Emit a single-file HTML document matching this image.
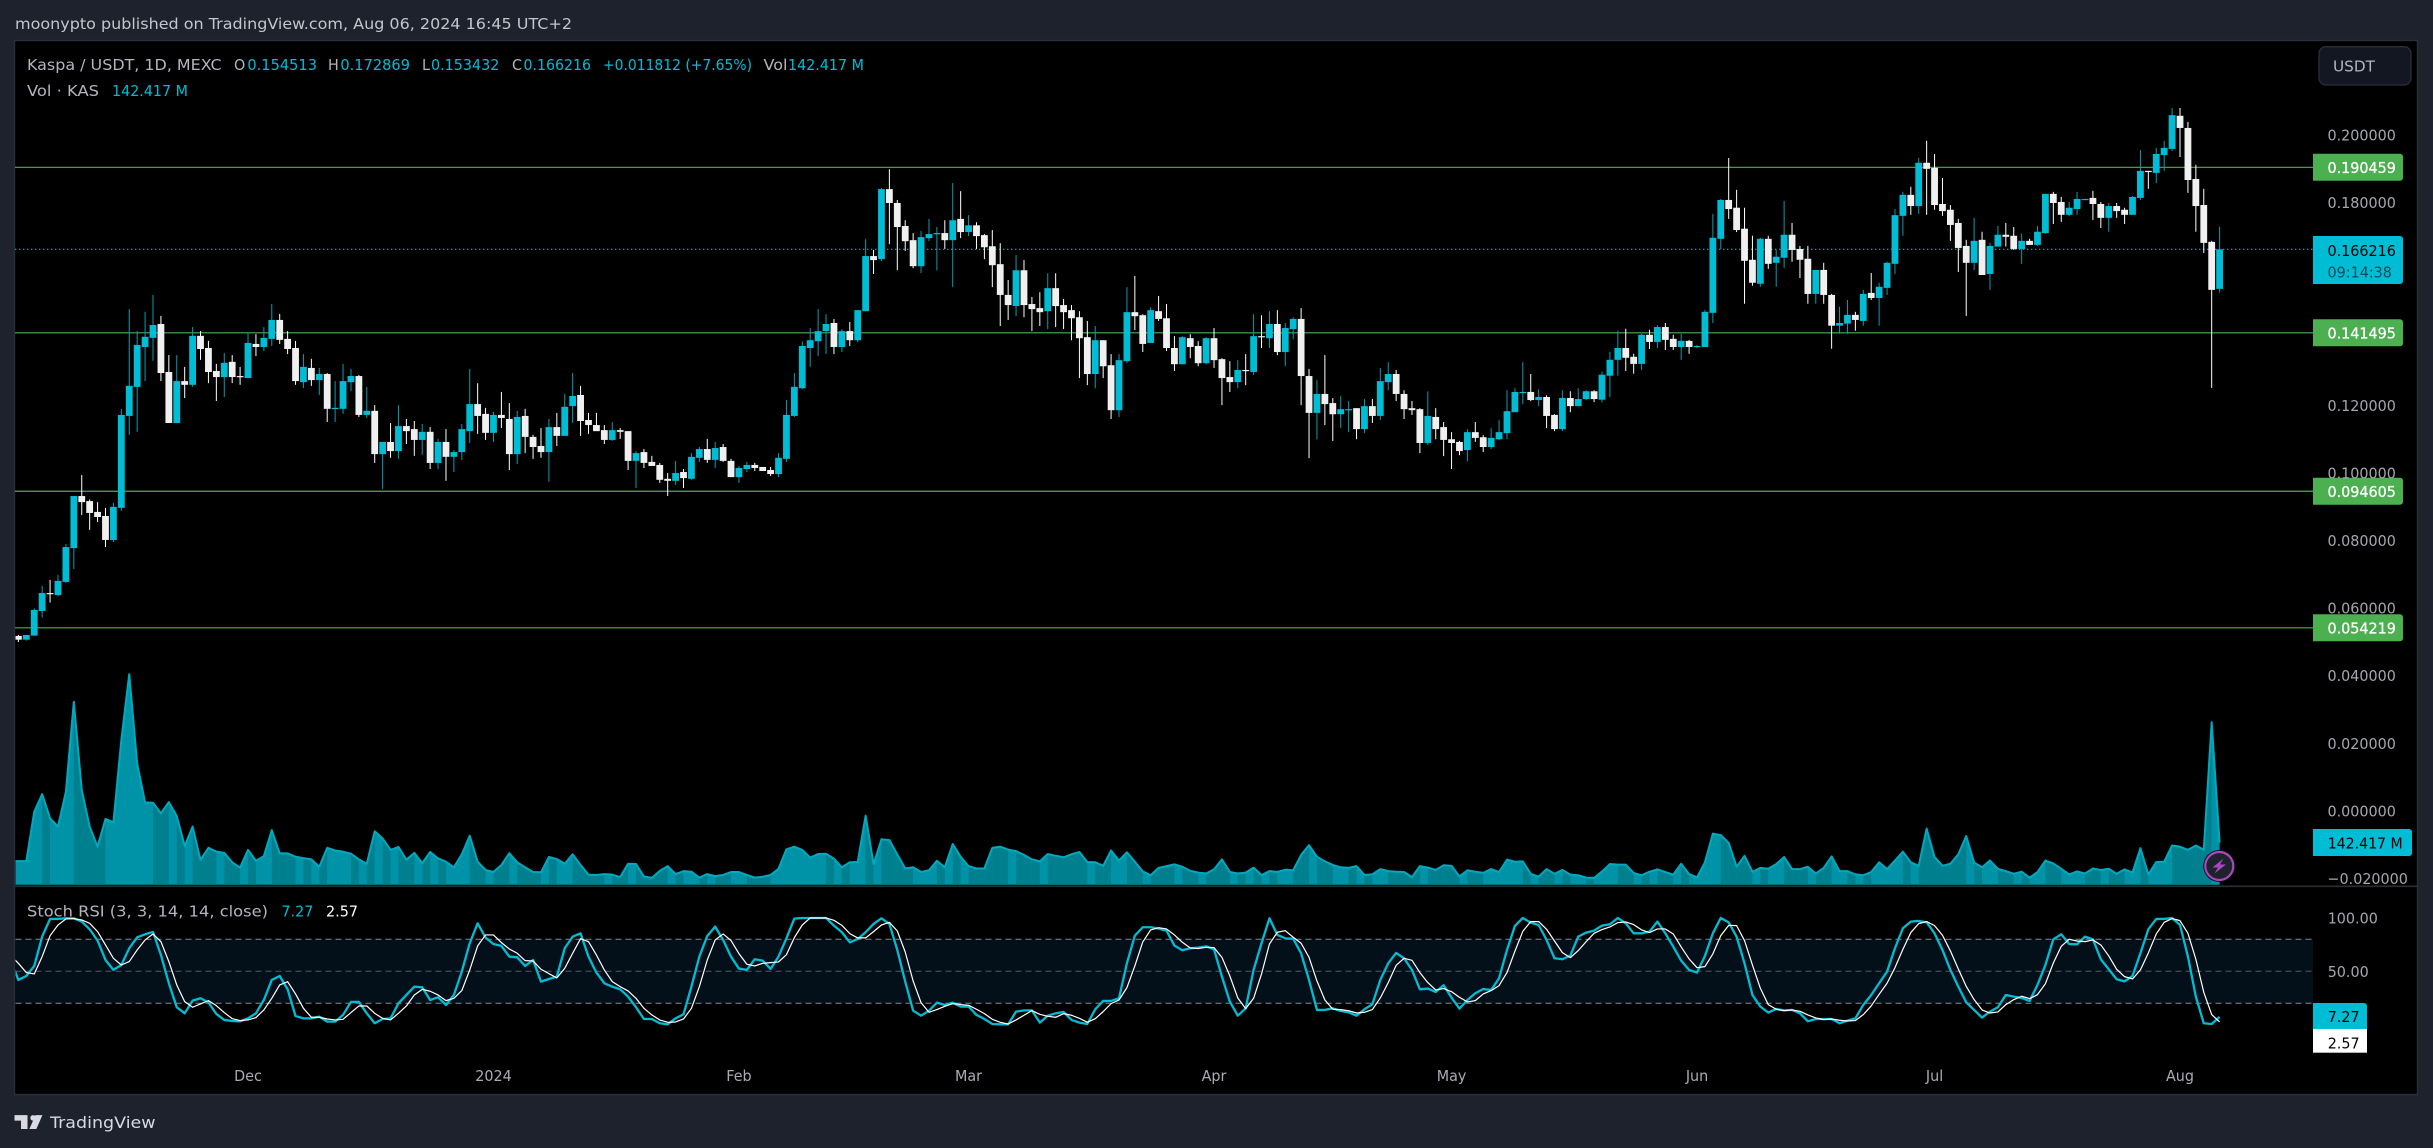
<!DOCTYPE html>
<html lang="en">
<head>
<meta charset="utf-8">
<title>Kaspa / USDT chart</title>
<style>
html,body{margin:0;padding:0;background:#1e222d;}
svg{display:block;}
text{font-family:"DejaVu Sans","Liberation Sans",sans-serif;font-size:15.5px;}
</style>
</head>
<body>
<svg id="chart" xmlns="http://www.w3.org/2000/svg" width="2433" height="1148" viewBox="0 0 2433 1148">
  <defs>
    <clipPath id="plot-clip"><rect x="15.5" y="41" width="2297.5" height="1053"></rect></clipPath>
  </defs>
  <rect x="0" y="0" width="2433" height="1148" fill="#1e222d"></rect>
  <text x="15" y="29" fill="#c4c6cd" textLength="557" lengthAdjust="spacingAndGlyphs">moonypto published on TradingView.com, Aug 06, 2024 16:45 UTC+2</text>
  <rect x="14.5" y="40.5" width="2403" height="1054" fill="#000000" stroke="#2a2e39" stroke-width="1.4"></rect>

  <g id="stoch-back"></g>
  <g id="levels"></g>
  <g id="candles" clip-path="url(#plot-clip)"></g>
  <g id="volume" clip-path="url(#plot-clip)"></g>
  <line x1="15" y1="886.3" x2="2417" y2="886.3" stroke="#2a2e39" stroke-width="1.6"></line>
  <g id="stoch" clip-path="url(#plot-clip)"></g>
  <g id="axes"></g>

  <g>
    <text x="27" y="70" fill="#b2b5be" textLength="194.6" lengthAdjust="spacingAndGlyphs">Kaspa / USDT, 1D, MEXC</text>
    <text x="234" y="70" fill="#b2b5be">O</text>
    <text x="247.4" y="70" fill="#00bcd4" textLength="69.6" lengthAdjust="spacingAndGlyphs">0.154513</text>
    <text x="328" y="70" fill="#b2b5be">H</text>
    <text x="340.4" y="70" fill="#00bcd4" textLength="69.6" lengthAdjust="spacingAndGlyphs">0.172869</text>
    <text x="422" y="70" fill="#b2b5be">L</text>
    <text x="431" y="70" fill="#00bcd4" textLength="68.4" lengthAdjust="spacingAndGlyphs">0.153432</text>
    <text x="512" y="70" fill="#b2b5be">C</text>
    <text x="523.5" y="70" fill="#00bcd4" textLength="67.5" lengthAdjust="spacingAndGlyphs">0.166216</text>
    <text x="603" y="70" fill="#00bcd4" textLength="149" lengthAdjust="spacingAndGlyphs">+0.011812 (+7.65%)</text>
    <text x="763.5" y="70" fill="#b2b5be" textLength="24" lengthAdjust="spacingAndGlyphs">Vol</text>
    <text x="788" y="70" fill="#00bcd4" textLength="76" lengthAdjust="spacingAndGlyphs">142.417 M</text>
    <text x="27" y="96" fill="#b2b5be" textLength="72" lengthAdjust="spacingAndGlyphs">Vol · KAS</text>
    <text x="112" y="96" fill="#00bcd4" textLength="76" lengthAdjust="spacingAndGlyphs">142.417 M</text>
  </g>

  <g>
    <text x="27" y="916.5" fill="#b2b5be" textLength="241" lengthAdjust="spacingAndGlyphs">Stoch RSI (3, 3, 14, 14, close)</text>
    <text x="281.4" y="916.5" fill="#00bcd4" textLength="32" lengthAdjust="spacingAndGlyphs">7.27</text>
    <text x="326" y="916.5" fill="#ffffff" textLength="32" lengthAdjust="spacingAndGlyphs">2.57</text>
  </g>

  <g>
    <rect x="2319" y="46.7" width="92" height="38.3" rx="7" fill="#131722" stroke="#2a2e39" stroke-width="1.3"></rect>
    <text x="2333" y="71.5" fill="#b2b5be" textLength="42" lengthAdjust="spacingAndGlyphs">USDT</text>
  </g>

  <g>
    <path d="M2313 236H2400a3 3 0 0 1 3 3V281a3 3 0 0 1-3 3H2313Z" fill="#00bcd4"></path>
    <text x="2327.5" y="255.8" fill="#000000">0.166216</text>
    <text x="2327.5" y="277.7" fill="#064a57">09:14:38</text>
  </g>

  <g>
    <path d="M2313 829H2409a3 3 0 0 1 3 3V853a3 3 0 0 1-3 3H2313Z" fill="#00bcd4"></path>
    <text x="2327.7" y="848.5" fill="#000000" textLength="75" lengthAdjust="spacingAndGlyphs">142.417 M</text>
  </g>

  <g>
    <path d="M2313 1003H2364a3 3 0 0 1 3 3V1029H2313Z" fill="#00bcd4"></path>
    <text x="2327.7" y="1022" fill="#000000">7.27</text>
    <rect x="2313" y="1029" width="54" height="23.7" fill="#ffffff"></rect>
    <text x="2327.7" y="1048.5" fill="#000000">2.57</text>
  </g>

  <g>
    <circle cx="2219.3" cy="866" r="16" fill="#0b0d13"></circle>
    <circle cx="2219.3" cy="866" r="14" fill="#1e222d" stroke="#ab47bc" stroke-width="2.2"></circle>
    <path d="M2223.5 858.5L2212.5 867.5H2218L2214.5 873.5L2226 864.5H2220Z" fill="#ab47bc"></path>
  </g>

  <g>
    <g transform="translate(14.5,1109.5) scale(0.93)" fill="#d8dae0">
      <path d="M14 6H0v6h7v9h7V6Z"></path>
      <circle cx="20" cy="9" r="3"></circle>
      <path d="M30 6h-7.5L16 21h7.5L30 6Z"></path>
    </g>
    <text x="50" y="1128" fill="#d8dae0" textLength="105.6" lengthAdjust="spacingAndGlyphs" style="font-size:16px">TradingView</text>
  </g>
</svg>

<script>
// Prices are in units of 1/10000 USDT.
const priceUnit = 0.0001;
const opens = [
518,507,519,592,645,639,678,778,932,917,885,873,802,897,1169,1255,1373,1400,1441,1299,
1148,1272,1261,1406,1370,1302,1284,1329,1287,1281,1382,1373,1397,1453,1397,1370,1269,1311,1275,1293,
1190,1190,1269,1287,1172,1184,1056,1092,1065,1139,1130,1098,1122,1030,1092,1048,1062,1124,1204,1175,
1119,1172,1160,1056,1169,1107,1080,1062,1136,1110,1198,1231,1157,1142,1127,1098,1127,1124,1036,1062,
1033,1024,983,977,1003,983,1045,1071,1039,1077,1036,988,1012,1024,1018,1009,997,1042,1169,
1251,1370,1390,1420,1444,1373,1420,1393,1479,1642,1633,1840,1799,1731,1689,1612,1695,1707,1710,1689,
1752,1713,1733,1704,1671,1618,1527,1494,1600,1500,1488,1479,1547,1497,1482,1461,1402,1293,1393,1319,
1186,1331,1476,1467,1385,1479,1458,1370,1322,1399,1376,1325,1399,1337,1284,1269,1305,1299,1405,1399,
1441,1358,1426,1456,1287,1178,1234,1207,1174,1186,1192,1130,1198,1169,1269,1293,1234,1192,1189,1089,
1166,1136,1100,1092,1068,1121,1106,1077,1100,1118,1180,1237,1240,1216,1225,1172,1130,1222,1198,1219,1242,
1217,1288,1335,1370,1344,1323,1409,1388,1432,1397,1373,1391,1373,1373,1474,1693,1808,1785,1723,1631,
1560,1693,1622,1637,1705,1663,1634,1530,1601,1527,1436,1442,1468,1450,1533,1518,1548,1619,1761,1823,
1790,1918,1903,1796,1779,1740,1672,1622,1690,1589,1670,1705,1702,1663,1687,1675,1710,1826,1802,1764,
1781,1808,1814,1796,1755,1790,1779,1764,1814,1894,1888,1941,1959,2057,2021,1870,1793,1684,1545];
const highs = [
521,521,600,666,684,699,790,932,994,922,914,897,912,1190,1485,1420,1477,1527,1465,1349,
1349,1314,1432,1420,1391,1323,1355,1349,1314,1415,1411,1432,1500,1471,1420,1391,1352,1338,1311,1296,
1272,1323,1308,1290,1255,1201,1092,1148,1201,1160,1154,1145,1136,1101,1130,1068,1145,1308,1266,1193,
1181,1240,1207,1184,1190,1113,1133,1160,1178,1234,1296,1258,1178,1178,1142,1151,1133,1124,1065,1071,
1051,1030,1000,1036,1012,1059,1077,1101,1092,1086,1042,1021,1033,1030,1018,1018,1059,1216,1296,
1390,1429,1485,1470,1456,1426,1447,1482,1692,1660,1843,1899,1808,1748,1710,1716,1752,1728,1748,1858,
1834,1763,1742,1707,1719,1680,1571,1645,1630,1521,1535,1591,1591,1515,1497,1479,1450,1435,1393,1352,
1352,1550,1583,1470,1491,1524,1500,1405,1405,1411,1390,1402,1429,1340,1331,1334,1352,1470,1467,1479,
1482,1444,1461,1488,1308,1275,1349,1222,1228,1213,1192,1219,1219,1311,1328,1305,1245,1213,1192,1242,
1192,1151,1121,1095,1130,1151,1112,1133,1157,1245,1251,1328,1293,1248,1230,1174,1245,1242,1251,1245,1245,
1300,1359,1421,1427,1353,1412,1424,1438,1444,1409,1412,1394,1379,1483,1767,1811,1932,1838,1785,1702,
1696,1702,1660,1805,1740,1672,1672,1601,1622,1530,1492,1512,1477,1542,1592,1563,1625,1781,1832,1847,
1932,1983,1944,1873,1793,1752,1690,1755,1714,1681,1731,1740,1728,1708,1693,1731,1826,1832,1817,1802,
1832,1811,1835,1802,1799,1799,1785,1820,1956,1894,1962,1983,2080,2080,2039,1912,1841,1687,1729];
const lows = [
500,504,519,572,617,636,675,716,876,832,855,781,796,888,1113,1122,1272,1332,1272,1148,
1148,1222,1255,1335,1266,1213,1225,1266,1261,1281,1346,1361,1376,1382,1352,1261,1252,1258,1231,1151,
1151,1175,1243,1166,1163,1030,953,1045,1042,1086,1051,1054,1012,1012,977,1003,1039,1089,1116,1098,
1092,1133,1009,1027,1059,1042,1045,974,1080,1110,1148,1110,1116,1124,1086,1095,1101,1009,956,1015,
1021,971,932,965,956,980,1033,1030,1015,1033,988,971,1003,1006,1006,991,988,1033,1166,
1248,1314,1346,1352,1352,1358,1376,1387,1479,1589,1627,1677,1600,1657,1606,1592,1686,1600,1663,1550,
1695,1701,1663,1633,1550,1435,1453,1464,1461,1420,1435,1426,1432,1426,1393,1281,1260,1251,1281,1160,
1166,1325,1423,1358,1385,1450,1361,1302,1322,1340,1316,1322,1311,1201,1240,1251,1260,1290,1370,1370,
1349,1316,1396,1201,1044,1100,1142,1095,1133,1121,1100,1118,1148,1157,1245,1213,1160,1172,1059,1083,
1100,1050,1012,1053,1035,1092,1062,1071,1098,1100,1180,1204,1213,1198,1133,1124,1124,1180,1198,1216,1210,
1209,1225,1288,1302,1294,1305,1367,1370,1364,1364,1335,1353,1370,1373,1444,1663,1752,1713,1501,1554,
1551,1604,1551,1607,1625,1577,1501,1501,1501,1368,1412,1412,1421,1436,1512,1436,1527,1589,1702,1764,
1767,1764,1779,1761,1687,1595,1465,1601,1586,1542,1670,1670,1660,1619,1675,1672,1708,1737,1743,1761,
1764,1808,1749,1725,1714,1755,1737,1764,1808,1841,1858,1894,1953,1935,1829,1714,1651,1252,1534];
const closes = [
507,521,595,645,642,681,781,932,914,882,870,802,900,1172,1258,1379,1403,1438,1296,1148,
1272,1261,1406,1367,1299,1284,1326,1284,1284,1385,1373,1400,1453,1394,1367,1272,1314,1275,1293,1190,
1193,1272,1287,1172,1184,1056,1092,1065,1139,1124,1098,1122,1030,1092,1048,1062,1130,1204,1169,1119,
1172,1163,1056,1166,1107,1077,1062,1136,1110,1196,1228,1154,1142,1124,1098,1127,1122,1036,1059,1030,
1021,980,977,1000,985,1048,1071,1039,1074,1036,988,1015,1024,1015,1006,997,1045,1172,1255,
1376,1393,1420,1441,1373,1420,1393,1482,1642,1630,1840,1799,1728,1686,1612,1698,1707,1710,1689,1748,
1713,1733,1701,1668,1615,1527,1497,1600,1497,1485,1476,1547,1494,1476,1458,1399,1293,1393,1316,1186,
1334,1476,1464,1382,1482,1456,1370,1322,1402,1373,1325,1399,1334,1281,1269,1305,1302,1405,1402,1441,
1358,1429,1456,1287,1178,1234,1204,1174,1189,1189,1130,1198,1169,1272,1293,1234,1189,1186,1089,1169,
1130,1098,1089,1065,1121,1104,1077,1104,1121,1183,1240,1240,1216,1225,1169,1130,1222,1198,1219,1242,1219,
1291,1335,1370,1341,1323,1409,1388,1432,1394,1373,1391,1373,1376,1477,1696,1808,1781,1719,1628,1563,
1693,1619,1640,1705,1660,1631,1530,1601,1527,1436,1444,1468,1453,1530,1518,1551,1622,1763,1823,1790,
1918,1900,1793,1775,1734,1666,1622,1687,1586,1672,1705,1699,1663,1687,1675,1714,1826,1799,1764,1785,
1811,1811,1796,1755,1790,1775,1764,1817,1894,1891,1944,1962,2059,2021,1867,1790,1681,1542,1662];
// Volume in millions of KAS.
const volumes = [
80,80,247,307,225,197,315,620,321,197,129,223,211,490,714,411,279,278,242,280,
233,131,197,84,125,112,108,76,58,118,81,97,185,106,106,95,90,86,61,125,
116,112,105,86,71,181,157,118,128,85,108,73,111,89,78,59,103,166,78,50,
43,67,107,76,59,43,42,94,87,71,103,67,34,33,36,34,26,71,70,28,
23,47,63,36,46,44,24,36,29,33,43,43,33,24,27,33,54,120,129,118,
92,104,105,88,59,76,77,234,70,154,151,103,55,59,43,49,81,59,138,95,
63,55,55,125,129,119,114,101,86,79,104,98,93,103,111,77,76,64,116,82,
110,78,45,32,57,63,69,61,47,41,38,52,86,43,38,41,58,33,46,43,
51,49,101,134,95,79,67,59,57,63,33,35,53,46,44,43,26,63,58,50,
66,64,28,49,44,40,53,43,85,78,79,37,27,53,37,50,34,32,24,23,
45,70,68,68,40,32,44,52,43,34,71,36,25,76,173,168,142,61,98,44,
57,54,70,94,53,53,61,38,57,96,46,46,35,32,43,76,53,82,112,76,
64,190,94,64,71,103,165,75,59,82,54,46,37,44,24,43,82,72,54,35,
45,38,55,50,54,37,52,41,124,35,77,78,133,129,118,133,118,551,142.4];
const stochK = [
41.9,45.6,55,82.5,99.1,99.1,99.7,99.7,96.6,89.4,78.8,60.6,51.3,55.9,71.6,81.9,84.7,86.9,65.3,38.8,
16.3,10.6,22.5,24.7,20.9,10,4.4,3.4,3.1,5.9,10.6,23.1,41.9,45.6,33.1,8.1,5.9,5.9,7.5,2.8,
2.8,9.1,21.3,21.3,10.6,1.3,5.3,5.9,20,27.8,35.6,35,23.1,25.6,18.4,27.8,49.7,76.3,95,81.6,
75.6,73.8,63.8,63.1,55,60.6,40.3,42.8,45,71.6,
82.5,85.6,63.8,48.8,38.8,35.6,33.1,26.3,16.3,5.3,5.3,1.3,0.3,5.9,9.7,35.6,63.8,83.1,91.9,79.4,
63.8,52.5,51.3,61.3,60,52.2,63.8,80.9,99.4,100,100,100,100,92.8,86.6,77.2,80.3,86.6,94.4,99.7,
94.4,70,40.3,13.1,8.4,13.1,20.6,18.4,20.6,16.9,16.9,9.1,5.3,0.6,0.3,0.3,12.2,13.4,13.4,1.9,
8.4,10.6,11.9,4.4,1.9,0.6,14.4,22.2,22.2,24.7,57.5,
83.4,91.3,91.3,90,88.1,74.1,69.7,71.6,72.2,73.4,70.6,45,21.6,8.4,15.3,51.3,76.3,99.7,84.1,80.9,
80.6,66.9,41.9,13.8,13.8,15.3,12.8,11.6,8.4,14.4,19.1,41.9,57.5,67.2,62.2,51.3,33.1,33.8,30.6,36.9,
25.3,15,23.1,29.4,33.4,32.5,43.4,70,92.5,100,95.6,93.4,79.4,62.2,61.3,64.7,82.5,86.3,88.1,92.8,
94.1,100,95,85.6,85.6,87.2,96.6,85.6,73.1,60,51.3,
48.8,64.4,85.6,100,95.9,82.5,57.5,27.8,16.9,11.3,14.7,13.4,13.8,10.6,3.1,5.3,5.3,5.3,1.3,3.8,
5.9,18.4,27.8,38.8,49.7,71.6,90.3,96.6,97.2,95.9,85.6,70,51.3,35.6,20.9,13.8,6.6,12.2,16.3,27.8,
26.3,25,22.2,37.2,55.9,80,84.7,75.6,75.3,82.5,80,61.3,51.9,42.5,40.6,45.6,66.9,89.4,99.1,99.1,
100,93.4,63.8,26.3,1.3,0.6,7.27];
const stochD = [
57.5,48.8,47.5,63.8,83.4,93.4,99.1,99.4,98.1,95,87.2,74.7,62.2,55.9,59.1,70,79.4,85,77.8,59.1,
37.2,21.6,16.3,19.4,22.5,17.8,11.3,5.6,3.8,4.4,6.6,13.8,24.7,37.2,40.3,28.8,15.3,6.9,6.9,5.3,
4.4,5,11.3,17.5,17.5,10.6,5.9,4.4,10.6,17.5,27.8,33.1,31.3,27.8,22.5,24.7,31.9,51.3,73.8,84.1,
84.1,76.9,70.9,66.9,60,59.7,51.9,47.8,43.8,52.8,
66.9,80.6,77.8,65.3,51.3,40.3,35.6,31.6,24.7,15.3,9.1,4.4,2.2,2.5,5.3,15.3,35.6,60.6,79.4,85,
78.8,66.6,56.6,55,57.5,58.1,58.8,65.6,81.6,93.4,100,100,100,97.8,93.1,85.3,81.3,81.3,87.2,93.4,
95.9,87.8,68.1,40.9,20.6,11.6,14.1,17.2,19.7,18.8,18.1,14.4,10.3,5,2.2,0.6,4.4,8.8,13.1,9.7,
7.8,6.9,10.3,8.8,5.9,2.2,5.6,12.2,19.7,23.1,34.7,
55,77.5,88.8,90.9,89.7,84.1,77.2,71.9,71.3,72.5,72.2,63.1,45.6,25,15,24.7,47.5,75.6,86.6,88.1,
81.9,76.3,63.1,40.9,23.1,14.4,14.1,13.1,10.9,11.6,14.1,25,39.4,55.6,62.2,60.3,48.8,39.4,32.5,33.8,
30.9,25.6,21.3,22.5,28.8,31.9,36.6,48.8,68.8,87.5,96.6,96.6,89.4,78.4,67.5,62.8,69.4,77.8,85.6,89.1,
91.6,95.6,96.3,93.8,88.8,86.3,89.7,89.7,85,72.8,61.6,
53.4,54.4,66.3,83.4,93.1,92.8,78.8,55.9,34.1,18.8,14.4,13.1,13.8,12.5,9.1,6.3,4.7,5.3,4.1,3.4,
3.8,9.4,17.5,28.4,38.8,53.4,70.6,86.3,94.7,96.6,92.8,83.8,69.1,52.2,35.9,23.4,13.8,10.9,11.9,18.8,
23.4,26.6,24.4,28.1,38.4,57.8,73.4,80,78.4,77.8,79.4,74.7,64.4,51.9,45,42.8,51.3,67.2,85,95.9,
99.4,97.5,85.6,61.3,30.3,9.4,2.57];
// Readings of the bar just left of the visible range, where only the line's tail shows.
const stochKPrior = 61;
const stochDPrior = 65;
const levelPrices = [0.190459, 0.141495, 0.094605, 0.054219];
const lastPrice = 0.166216;
const priceTicks = [0.2, 0.18, 0.12, 0.1, 0.08, 0.06, 0.04, 0.02, 0, -0.02];
const stochTicks = [100, 50];
const stochBands = [80, 50, 20];
const monthLabels = ["Dec", "2024", "Feb", "Mar", "Apr", "May", "Jun", "Jul", "Aug"];
const monthBars = [29, 60, 91, 120, 151, 181, 212, 242, 273];

const NS = "http://www.w3.org/2000/svg";
const upColor = "#00bcd4";
const upWick = "#0a9cb0";
const downFill = "#f0f0f0";
const downWick = "#ffffff";

function xBar(k) { return 18.4 + 7.918 * k; }
function yPrice(p) { return 167.3 + (0.190459 - p) * 3380; }
function yVolume(v) { return 884.7 - v / 3.39; }
function yStoch(v) { return 1003.3 - (v - 20) * 1.0667; }

function mk(tag, attrs, parent) {
  const el = document.createElementNS(NS, tag);
  for (const key in attrs) { el.setAttribute(key, attrs[key]); }
  parent.appendChild(el);
  return el;
}

// Price levels and last-price line
const levelsGroup = document.getElementById("levels");
levelPrices.forEach(function (p) {
  const y = yPrice(p);
  const line = mk("line", { x1: 15, x2: 2313, y1: y, y2: y, stroke: "#4caf50", "stroke-width": 1.2 }, levelsGroup);
  
  
  const box = mk("path", { d: "M2313 " + (y - 13.5) + "H2400a3 3 0 0 1 3 3V" + (y + 10.5) + "a3 3 0 0 1-3 3H2313Z", fill: "#4caf50" }, levelsGroup);
  
  
  const label = mk("text", { x: 2327.5, y: y + 5.8, fill: "#ffffff", stroke: "#ffffff", "stroke-width": 0.3 }, levelsGroup);
  label.textContent = p.toFixed(6);
  
  
});
const lastLine = mk("line", { x1: 15, x2: 2313, y1: yPrice(lastPrice), y2: yPrice(lastPrice), stroke: "#26c6da", "stroke-width": 1.1, "stroke-dasharray": "1.4 2.6" }, levelsGroup);



// Candles
const candleGroup = document.getElementById("candles");
closes.forEach(function (c, k) {
  const o = opens[k];
  const up = c >= o;
  const x = xBar(k);
  const top = yPrice(Math.max(o, c) * priceUnit);
  const bot = yPrice(Math.min(o, c) * priceUnit);
  const wick = mk("rect", { x: x - 0.5, width: 1, y: yPrice(highs[k] * priceUnit), height: Math.max(0.5, yPrice(lows[k] * priceUnit) - yPrice(highs[k] * priceUnit)), fill: up ? upWick : downWick }, candleGroup);
  
  
  const body = mk("rect", { x: x - 3.4, width: 6.8, y: top, height: Math.max(1.2, bot - top), fill: up ? upColor : downFill }, candleGroup);
  
  
});

// Volume area: one light base shape, with darker segments over down days
const volumeGroup = document.getElementById("volume");
const baseY = yVolume(0);
let volPoints = "15," + yVolume(volumes[0]);
volumes.forEach(function (v, k) { volPoints += " " + xBar(k) + "," + yVolume(v); });
const volBase = mk("polygon", { points: "15," + baseY + " " + volPoints + " " + xBar(volumes.length - 1) + "," + baseY, fill: "#0093a8" }, volumeGroup);


volumes.forEach(function (v, k) {
  if (k === 0 || closes[k] >= opens[k]) { return; }
  const x0 = xBar(k - 1);
  const x1 = xBar(k);
  const seg = mk("polygon", { points: x0 + "," + baseY + " " + x0 + "," + yVolume(volumes[k - 1]) + " " + x1 + "," + yVolume(v) + " " + x1 + "," + baseY, fill: "#00808f" }, volumeGroup);
  
  
});
const volLine = mk("polyline", { points: volPoints, fill: "none", stroke: "#00a9be", "stroke-width": 2, "stroke-linejoin": "round" }, volumeGroup);



// Stoch RSI band and lines
const stochBack = document.getElementById("stoch-back");
const band = mk("rect", { x: 15.5, width: 2297.5, y: yStoch(stochBands[0]), height: yStoch(stochBands[2]) - yStoch(stochBands[0]), fill: "#03101a" }, stochBack);


stochBands.forEach(function (v, i) {
  const y = yStoch(v);
  const dash = mk("line", { x1: 15.5, x2: 2313, y1: y, y2: y, stroke: i === 1 ? "#545862" : "#868993", "stroke-width": 1, "stroke-dasharray": "6 4" }, stochBack);
  
  
});
const stochGroup = document.getElementById("stoch");
function seriesPoints(values, prior) {
  const start = xBar(-1) + "," + yStoch(prior);
  return start + " " + values.map(function (v, k) { return xBar(k) + "," + yStoch(v); }).join(" ");
}
const kLine = mk("polyline", { points: seriesPoints(stochK, stochKPrior), fill: "none", stroke: "#00bcd4", "stroke-width": 2.3, "stroke-linejoin": "round" }, stochGroup);


const dLine = mk("polyline", { points: seriesPoints(stochD, stochDPrior), fill: "none", stroke: "#ffffff", "stroke-width": 1.2, "stroke-linejoin": "round" }, stochGroup);



// Axis labels
const axesGroup = document.getElementById("axes");
priceTicks.forEach(function (p) {
  const t = mk("text", { x: 2327.5, y: yPrice(p) + 5.3, fill: "#a3a6af" }, axesGroup);
  t.textContent = (p < 0 ? "\u2212" : "") + Math.abs(p).toFixed(6);
  
  
});
stochTicks.forEach(function (v) {
  const t = mk("text", { x: 2327.7, y: yStoch(v) + 5.5, fill: "#a3a6af" }, axesGroup);
  t.textContent = v.toFixed(2);
  
  
});
monthLabels.forEach(function (label, i) {
  const t = mk("text", { x: xBar(monthBars[i]), y: 1081, fill: "#a9acb5", "text-anchor": "middle" }, axesGroup);
  t.textContent = label;
  
  
});

// Condense any label without an explicit width so glyphs stay tall but narrow
document.querySelectorAll("#chart text").forEach(function (t) {
  if (!t.hasAttribute("textLength")) {
    t.setAttribute("textLength", (t.getComputedTextLength() * 0.925).toFixed(2));
    t.setAttribute("lengthAdjust", "spacingAndGlyphs");
  }
});
</script>
</body>
</html>
